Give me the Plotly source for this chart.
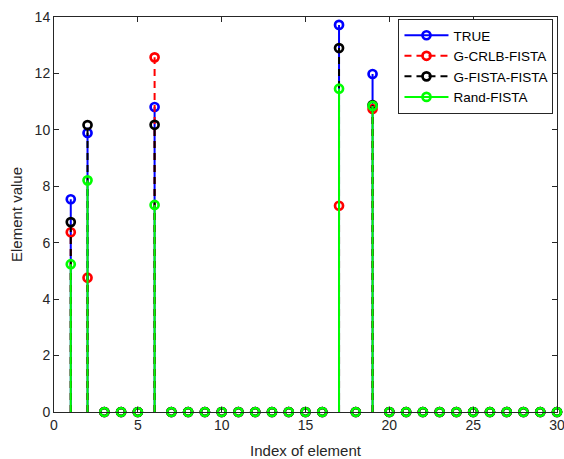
import plotly.graph_objects as go

# ---- data ----
index = list(range(1, 31))
nz_idx = [1, 2, 6, 17, 19]
true_nz = [7.54, 9.89, 10.81, 13.72, 11.98]
crlb_nz = [6.37, 4.76, 12.57, 7.31, 10.74]
gfista_nz = [6.73, 10.17, 10.18, 12.90, 10.88]
rand_nz = [5.24, 8.21, 7.34, 11.46, 10.85]
x_ticks = [0, 5, 10, 15, 20, 25, 30]
y_ticks = [0, 2, 4, 6, 8, 10, 12, 14]

def full(vals):
    d = dict(zip(nz_idx, vals))
    return [d.get(i, 0.0) for i in index]

series = [
    ("TRUE", full(true_nz), "#0000FF", "solid"),
    ("G-CRLB-FISTA", full(crlb_nz), "#FF0000", "7px,5px"),
    ("G-FISTA-FISTA", full(gfista_nz), "#000000", "7px,5px"),
    ("Rand-FISTA", full(rand_nz), "#00FF00", "solid"),
]

fig = go.Figure()
for name, vals, color, dash in series:
    sx, sy = [], []
    for xi, v in zip(index, vals):
        sx += [xi, xi, None]
        sy += [0, v, None]
    fig.add_trace(go.Scatter(x=sx, y=sy, mode="lines", showlegend=False,
                             line=dict(color=color, width=2, dash=dash),
                             cliponaxis=False, hoverinfo="skip"))
    fig.add_trace(go.Scatter(x=index, y=vals, mode="markers", showlegend=False,
                             marker=dict(symbol="circle-open", size=8, color=color,
                                         line=dict(width=2.7, color=color)),
                             cliponaxis=False, name=name))
    fig.add_trace(go.Scatter(x=[None], y=[None], mode="lines+markers", name=name,
                             line=dict(color=color, width=2, dash=dash),
                             marker=dict(symbol="circle-open", size=8, color=color,
                                         line=dict(width=2.7, color=color))))

axis_common = dict(showline=True, linecolor="#262626", linewidth=1, mirror="allticks",
                   ticks="inside", ticklen=5, tickcolor="#262626", showgrid=False,
                   zeroline=False, tickfont=dict(size=14, color="#262626"),
                   ticklabeloverflow="allow", layer="above traces", automargin=False)

fig.update_layout(
    width=564, height=459,
    margin=dict(l=54, r=7, t=17, b=47),
    paper_bgcolor="white", plot_bgcolor="white",
    font=dict(family="Liberation Sans, Arial, sans-serif", color="#262626"),
    xaxis=dict(range=[0, 30], tickvals=x_ticks, ticktext=[str(v) for v in x_ticks],
               title=dict(text="Index of element", font=dict(size=15), standoff=14),
               **axis_common),
    yaxis=dict(range=[0, 14], tickvals=y_ticks, ticktext=[str(v) for v in y_ticks],
               title=dict(text="Element value", font=dict(size=15), standoff=8),
               **axis_common),
    legend=dict(x=0.993, y=0.995, xanchor="right", yanchor="top",
                bordercolor="#262626", borderwidth=1, bgcolor="white",
                font=dict(size=13.5, color="#000000"), tracegroupgap=0,
                itemwidth=44),
)

fig.write_html("out.html")
